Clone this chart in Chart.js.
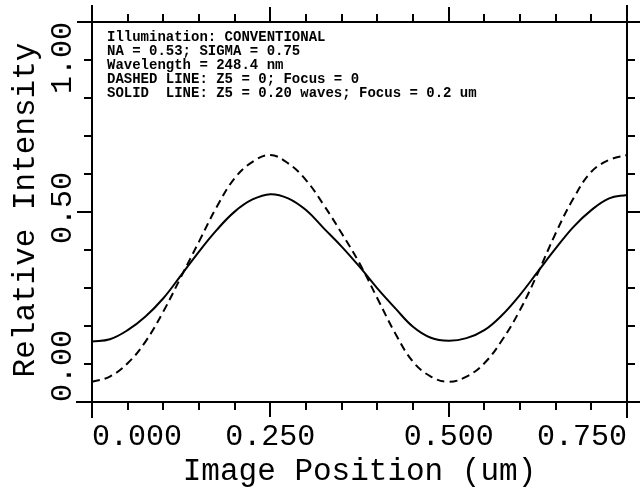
<!DOCTYPE html>
<html>
<head>
<meta charset="utf-8">
<script src="https://cdn.jsdelivr.net/npm/chart.js@4/dist/chart.umd.min.js"></script>
<style>
  body { margin: 0; background: #fff; }
  canvas { display: block; }
</style>
</head>
<body>
<canvas id="graphCanvas" width="640" height="489"></canvas>
<script>
// image position (um)
var imagePos = [0, 0.025, 0.05, 0.075, 0.1, 0.125, 0.15, 0.175, 0.2, 0.225, 0.25,
                0.275, 0.3, 0.325, 0.35, 0.375, 0.4, 0.425, 0.45, 0.475, 0.5,
                0.525, 0.55, 0.575, 0.6, 0.625, 0.65, 0.675, 0.7, 0.725, 0.75];
// solid: Z5 = 0.20 waves, focus = 0.2 um
var solidLine = [0.159, 0.165, 0.189, 0.225, 0.273, 0.334, 0.396, 0.453, 0.501, 0.533, 0.547,
                 0.536, 0.505, 0.457, 0.409, 0.356, 0.299, 0.247, 0.198, 0.169, 0.161,
                 0.168, 0.189, 0.229, 0.282, 0.343, 0.404, 0.461, 0.505, 0.536, 0.545];
// dashed: Z5 = 0, focus = 0
var dashedLine = [0.053, 0.067, 0.102, 0.159, 0.238, 0.330, 0.422, 0.514, 0.589, 0.632, 0.650,
                  0.628, 0.584, 0.518, 0.444, 0.365, 0.273, 0.181, 0.106, 0.067, 0.053,
                  0.067, 0.102, 0.163, 0.242, 0.339, 0.444, 0.536, 0.606, 0.637, 0.650];

var xTicks = [0, 0.05, 0.1, 0.15, 0.2, 0.25, 0.3, 0.35, 0.4, 0.45, 0.5, 0.55, 0.6, 0.65, 0.7, 0.75];
var xMajor = [0, 0.25, 0.5, 0.75];
var xTickLabels = ['0.000', '0.250', '0.500', '0.750'];
var yTicks = [0, 0.1, 0.2, 0.3, 0.4, 0.5, 0.6, 0.7, 0.8, 0.9, 1.0];
var yMajor = [0, 0.5, 1.0];
var yTickLabels = ['0.00', '0.50', '1.00'];

var notes = [
    'Illumination: CONVENTIONAL',
    'NA = 0.53; SIGMA = 0.75',
    'Wavelength = 248.4 nm',
    'DASHED LINE: Z5 = 0; Focus = 0',
    'SOLID  LINE: Z5 = 0.20 waves; Focus = 0.2 um'
];

function pts(ys) {
    var out = [];
    for (var i in imagePos) out.push({x: imagePos[i], y: ys[i]});
    return out;
}
function isIn(v, list) {
    for (var i in list) if (Math.abs(list[i] - v) < 1e-9) return true;
    return false;
}

var mono = '"Liberation Mono", "Courier New", monospace';

var framePlugin = {
    id: 'frame',
    afterDraw: function(chart) {
        var ctx = chart.ctx, a = chart.chartArea;
        var xs = chart.scales.x, ys = chart.scales.y;
        ctx.save();
        ctx.strokeStyle = '#000';
        ctx.lineWidth = 2;
        ctx.lineCap = 'butt';
        ctx.beginPath();
        ctx.moveTo(77, a.top); ctx.lineTo(640, a.top);
        ctx.moveTo(76, a.bottom); ctx.lineTo(640, a.bottom);
        ctx.moveTo(a.left, 5); ctx.lineTo(a.left, 418);
        ctx.moveTo(a.right, 5); ctx.lineTo(a.right, 418);
        // x ticks, bottom and top
        for (var i in xTicks) {
            var px = Math.round(xs.getPixelForValue(xTicks[i]));
            var len = isIn(xTicks[i], xMajor) ? 15 : 8;
            ctx.moveTo(px, a.bottom); ctx.lineTo(px, a.bottom + len);
            ctx.moveTo(px, a.top); ctx.lineTo(px, a.top - len);
        }
        // y ticks, left and right
        for (var j in yTicks) {
            var py = Math.round(ys.getPixelForValue(yTicks[j]));
            var l2 = isIn(yTicks[j], yMajor) ? 15 : 8;
            ctx.moveTo(a.left, py); ctx.lineTo(a.left - l2, py);
            ctx.moveTo(a.right, py); ctx.lineTo(a.right + l2, py);
        }
        ctx.stroke();

        ctx.fillStyle = '#000';
        // x tick labels, first and last kept inside the axis
        ctx.font = '30px ' + mono;
        ctx.textBaseline = 'alphabetic';
        for (var k in xMajor) {
            var x = xs.getPixelForValue(xMajor[k]);
            ctx.textAlign = k == 0 ? 'left' : (k == xMajor.length - 1 ? 'right' : 'center');
            ctx.fillText(xTickLabels[k], x, 445);
        }
        // y tick labels, rotated
        for (var m in yMajor) {
            var y = ys.getPixelForValue(yMajor[m]);
            ctx.save();
            ctx.translate(71, y);
            ctx.rotate(-Math.PI / 2);
            ctx.textAlign = m == 0 ? 'left' : (m == yMajor.length - 1 ? 'right' : 'center');
            ctx.fillText(yTickLabels[m], m == 0 ? 0 : (m == yMajor.length - 1 ? 0 : 4), 0);
            ctx.restore();
        }
        // axis titles
        ctx.font = '31px ' + mono;
        ctx.textAlign = 'center';
        ctx.fillText('Image Position (um)', (a.left + a.right) / 2, 480);
        ctx.save();
        ctx.translate(34, 210);
        ctx.rotate(-Math.PI / 2);
        ctx.fillText('Relative Intensity', 0, 0);
        ctx.restore();

        // notes block
        ctx.font = 'bold 14px ' + mono;
        ctx.textAlign = 'left';
        for (var n in notes) {
            ctx.fillText(notes[n], 107, 41 + 14 * n);
        }
        ctx.restore();
    }
};

var graphTarget = document.getElementById('graphCanvas');
var lineGraph = new Chart(graphTarget, {
    type: 'line',
    data: {
        datasets: [
            {
                label: 'Dashed',
                data: pts(dashedLine),
                borderColor: '#000',
                borderWidth: 2,
                borderDash: [8, 5],
                pointRadius: 0,
                fill: false,
                tension: 0.4
            },
            {
                label: 'Solid',
                data: pts(solidLine),
                borderColor: '#000',
                borderWidth: 2,
                pointRadius: 0,
                fill: false,
                tension: 0.4
            }
        ]
    },
    options: {
        responsive: false,
        animation: false,
        layout: { padding: { left: 92, top: 22, right: 13, bottom: 87 } },
        plugins: { legend: { display: false }, tooltip: { enabled: false } },
        scales: {
            x: { type: 'linear', min: 0, max: 0.75, display: false },
            y: { type: 'linear', min: 0, max: 1.0, display: false }
        }
    },
    plugins: [framePlugin]
});
</script>
</body>
</html>
